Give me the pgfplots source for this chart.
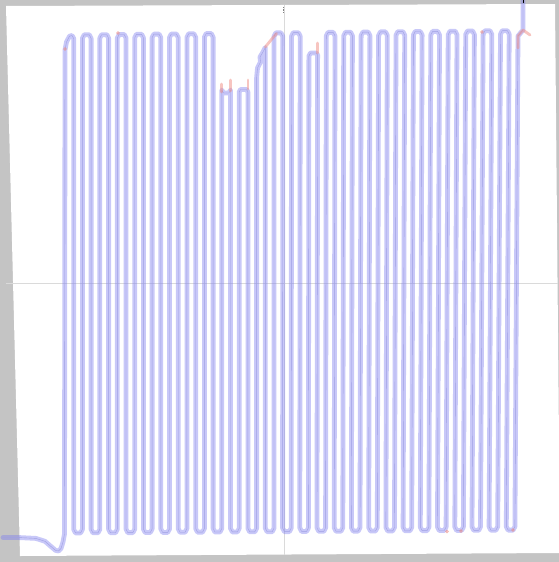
\documentclass[border=0pt]{standalone}
\usepackage{pgfplots}
\usepackage{pgfplotstable}
\pgfplotsset{compat=1.18}
\definecolor{framegray}{RGB}{196,196,196}
\definecolor{band}{RGB}{125,125,240}
\definecolor{core}{RGB}{160,160,228}
\definecolor{redx}{RGB}{240,140,130}
\definecolor{cross}{RGB}{218,218,218}
\pgfplotstableread{
x y
3 537.5
20 537.6
36 538.4
45 541.3
51 546.5
55.5 550.3
58.5 551
61 548.5
63 542
64.5 534
65 50
66.5 42
69.5 36.2
72 35.5
73.7 38.5
73.7 529.4
75.5 532.9
80.6 532.9
82.4 529.4
82.4 38.3
84.2 34.8
89.3 34.8
91.1 38.3
91.1 529.3
92.9 532.8
98.0 532.8
99.8 529.3
99.8 38.2
101.6 34.7
106.8 34.7
108.6 38.2
108.6 529.2
110.4 532.7
115.5 532.7
117.3 529.2
117.3 38.0
119.1 34.5
124.2 34.5
126.0 38.0
126.0 529.1
127.8 532.6
132.9 532.6
134.7 529.1
134.7 37.8
136.5 34.3
141.6 34.3
143.4 37.8
143.4 529.0
145.2 532.5
150.3 532.5
152.1 529.0
152.1 37.6
153.9 34.1
159.0 34.1
160.8 37.6
160.8 528.9
162.6 532.4
167.7 532.4
169.5 528.9
169.5 37.5
171.3 34.0
176.4 34.0
178.2 37.5
178.2 528.7
180.0 532.2
185.1 532.2
186.9 528.7
186.9 37.3
188.7 33.8
193.9 33.8
195.7 37.3
195.7 528.6
197.5 532.1
202.6 532.1
204.4 528.6
204.4 37.1
206.2 33.6
211.3 33.6
213.1 37.1
213.1 528.5
214.9 532.0
220.0 532.0
221.8 528.5
221.8 90
223.5 93
229.0 93
230.5 90
230.5 528.4
232.3 531.9
237.4 531.9
239.2 528.4
239.2 92
240.5 89.5
246.5 89.5
247.9 92
247.9 528.3
249.7 531.8
254.8 531.8
256.6 528.3
256.6 78
257.5 68
260.5 62
260.0 57
263.0 52
265.3 47.5
265.3 50
265.3 528.2
267.1 531.7
272.2 531.7
274.0 528.2
274.0 36.4
275.8 32.9
281.0 32.9
282.8 36.4
282.6 528.1
284.4 531.6
289.4 531.6
291.2 528.1
291.5 36.2
293.3 32.7
298.4 32.7
300.2 36.2
299.8 527.9
301.6 531.4
306.6 531.4
308.4 527.9
308.9 56
310.5 53
316.0 53
317.6 55
317.0 527.8
318.8 531.3
323.8 531.3
325.6 527.8
326.3 35.9
328.1 32.4
333.2 32.4
335.0 35.9
334.2 527.7
336.0 531.2
341.0 531.2
342.8 527.7
343.7 35.7
345.5 32.2
350.6 32.2
352.4 35.7
351.4 527.6
353.2 531.1
358.2 531.1
360.0 527.6
361.1 35.6
362.9 32.1
368.1 32.1
369.9 35.6
368.7 527.5
370.5 531.0
375.5 531.0
377.3 527.5
378.6 35.4
380.4 31.9
385.5 31.9
387.3 35.4
385.9 527.4
387.7 530.9
392.7 530.9
394.5 527.4
396.0 35.2
397.8 31.7
402.9 31.7
404.7 35.2
403.1 527.3
404.9 530.8
409.9 530.8
411.7 527.3
413.4 35.0
415.2 31.5
420.3 31.5
422.1 35.0
420.3 527.1
422.1 530.6
427.1 530.6
428.9 527.1
430.8 34.9
432.6 31.4
437.7 31.4
439.5 34.9
437.5 527.0
439.3 530.5
444.3 530.5
446.1 527.0
448.2 34.7
450.0 31.2
455.2 31.2
457.0 34.7
454.8 526.9
456.6 530.4
461.6 530.4
463.4 526.9
465.7 34.5
467.5 31.0
472.6 31.0
474.4 34.5
472.0 526.8
473.8 530.3
478.7 530.3
480.5 526.8
483.1 34.3
484.9 30.8
490.0 30.8
491.8 34.3
489.1 526.7
490.9 530.2
495.9 530.2
497.7 526.7
500.5 34.2
502.3 30.7
507.4 30.7
509.2 34.2
506.3 526.6
508.1 530.1
513.1 530.1
514.9 526.6
517.9 48
518.0 36
523.0 30
523.0 -2
}\track
\begin{document}
\begin{tikzpicture}
\begin{axis}[width=559pt,height=562pt,scale only axis,
  xmin=0,xmax=559,ymin=0,ymax=562,y dir=reverse,
  axis lines=none,clip=true]
% frame
\addplot[fill=framegray,draw=none] coordinates {(0,0) (559,0) (559,562) (0,562)} -- cycle;
\addplot[fill=white,draw=none] coordinates {(6,6) (555,4) (560,553) (20,556)} -- cycle;
% crosshair
\addplot[cross,line width=0.6pt] coordinates {(6,283) (558,283)};
\addplot[cross,line width=0.6pt] coordinates {(284,5) (284,555)};
% track band
\addplot[band,opacity=0.42,line width=4.8pt,line join=round,line cap=round] table[x=x,y=y] {\track};
\addplot[core,line width=0.4pt,line join=round] table[x=x,y=y] {\track};
% red segments
\addplot[redx,opacity=0.5,line width=2.8pt,line join=round,line cap=round] coordinates {(517.9,48) (518,36) (523,30) (530,35)};
\addplot[redx,opacity=0.5,line width=2.8pt,line cap=round] coordinates {(221.8,84) (221.8,92)};
\addplot[redx,opacity=0.5,line width=2.8pt,line cap=round] coordinates {(230.5,80) (230.5,91)};
\addplot[redx,opacity=0.5,line width=2.8pt,line cap=round] coordinates {(247.9,80) (247.9,89)};
\addplot[redx,opacity=0.5,line width=2.8pt,line join=round,line cap=round] coordinates {(265.3,47) (271,40) (276.5,33.5)};
\addplot[redx,opacity=0.5,line width=2.8pt,line cap=round] coordinates {(317.6,43) (317.6,53)};
\addplot[only marks,mark=*,mark size=1.6pt,redx,opacity=0.5] coordinates {(65,49) (118,33) (482,32) (447,531.5) (461,531) (513,530)};
% small marks
\addplot[black,line width=1pt] coordinates {(523,0) (523,3)};
\addplot[gray,line width=0.6pt,densely dotted] coordinates {(283.5,7) (283.5,13)};
\end{axis}
\end{tikzpicture}
\end{document}
